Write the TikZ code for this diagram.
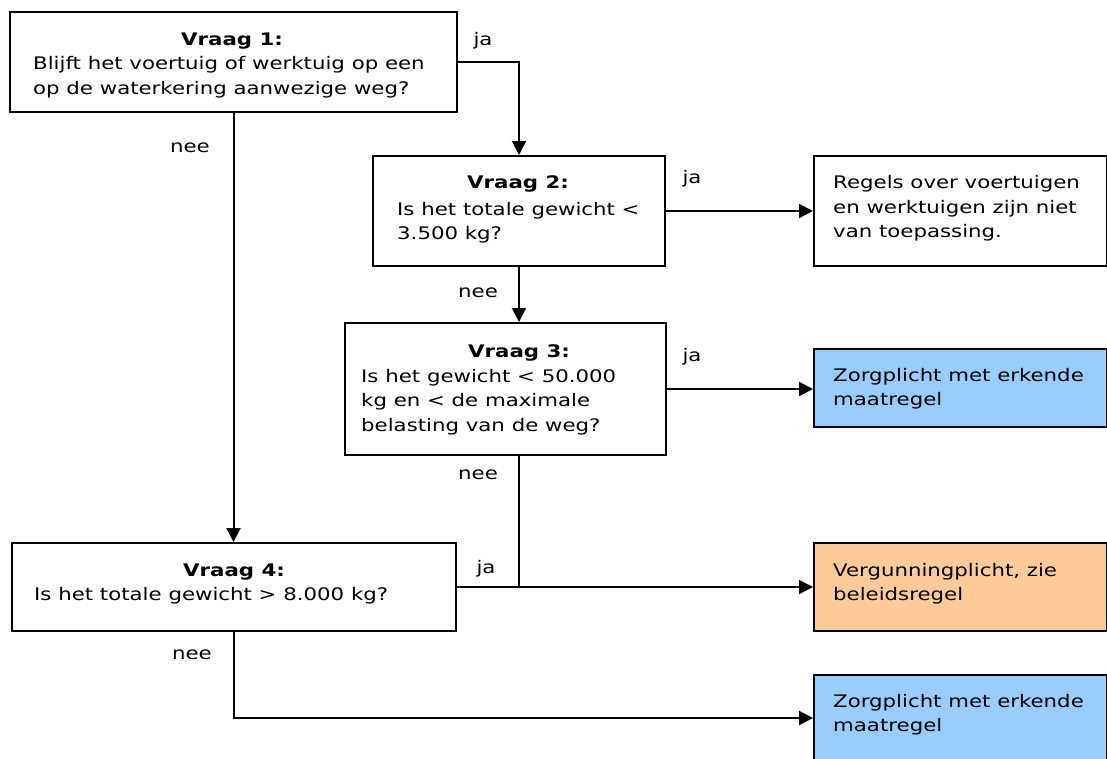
\documentclass[tikz,border=0pt]{standalone}
\usepackage{fontspec}
\setmainfont{DejaVu Sans}[FakeStretch=1.23]
\usetikzlibrary{arrows.meta}
\definecolor{zblue}{HTML}{99CCFF}
\definecolor{vorange}{HTML}{FFCC99}
\tikzset{
  box/.style={draw=black, line width=2pt, fill=white, inner sep=0pt},
  txt/.style={inner sep=0pt, anchor=base west, align=left, font=\fontsize{17.3}{24.7}\selectfont},
  head/.style={inner sep=0pt, anchor=base, font=\fontsize{17.3}{24.7}\selectfont\bfseries},
  lbl/.style={inner sep=0pt, anchor=base, font=\fontsize{17.3}{24.7}\selectfont},
  conn/.style={line width=2pt, -{Triangle[length=14pt,width=14pt]}},
  plain/.style={line width=2pt},
}
\begin{document}
\begin{tikzpicture}[x=1pt,y=-1pt]
\useasboundingbox (0,0) rectangle (1107,758);
\clip (0,0) rectangle (1107,758);
% boxes
\node[box, minimum width=447pt, minimum height=100pt] (q1) at (233.5,62) {};
\node[box, minimum width=292pt, minimum height=110pt] (q2) at (519,211) {};
\node[box, minimum width=293pt, minimum height=110pt] (r1) at (960.5,211) {};
\node[box, minimum width=321pt, minimum height=132pt] (q3) at (505.5,389) {};
\node[box, fill=zblue, minimum width=293pt, minimum height=78pt] (z1) at (960.5,388) {};
\node[box, minimum width=444pt, minimum height=88pt] (q4) at (234,587) {};
\node[box, fill=vorange, minimum width=293pt, minimum height=88pt] (v) at (960.5,587) {};
\node[box, fill=zblue, minimum width=293pt, minimum height=86pt] (z2) at (960.5,718) {};
% texts (base anchor = baseline of last line)
\node[head] (h1) at (232,45) {Vraag 1:};
\node[txt] (t1) at (33,94.2) {Blijft het voertuig of werktuig op een\\op de waterkering aanwezige weg?};
\node[head] (h2) at (518,188.5) {Vraag 2:};
\node[txt] (t2) at (397,239.7) {Is het totale gewicht <\\3.500 kg?};
\node[txt] (tr1) at (833,237.9) {Regels over voertuigen\\en werktuigen zijn niet\\van toepassing.};
\node[head] (h3) at (519,357) {Vraag 3:};
\node[txt] (t3) at (361,431.4) {Is het gewicht < 50.000\\kg en < de maximale\\belasting van de weg?};
\node[txt] (tz1) at (833,405.7) {Zorgplicht met erkende\\maatregel};
\node[head] (h4) at (234,576) {Vraag 4:};
\node[txt] (t4) at (34,600.5) {Is het totale gewicht > 8.000 kg?};
\node[txt] (tv) at (833,600.7) {Vergunningplicht, zie\\beleidsregel};
\node[txt] (tz2) at (833,731.7) {Zorgplicht met erkende\\maatregel};
% labels
\node[lbl] (l1) at (483,45) {ja};
\node[lbl] (l2) at (190,152) {nee};
\node[lbl] (l3) at (692,183) {ja};
\node[lbl] (l4) at (478,297) {nee};
\node[lbl] (l5) at (692,361) {ja};
\node[lbl] (l6) at (478,479) {nee};
\node[lbl] (l7) at (486,573) {ja};
\node[lbl] (l8) at (192,659) {nee};
% connectors
\draw[conn] (q1.east) -| (q2.north);
\draw[conn] (q1.south) -- (q1.south |- q4.north);
\draw[conn] (q2.east) -- (r1.west);
\draw[conn] (q2.south) -- (q2.south |- q3.north);
\draw[conn] (q3.east) -- (q3.east -| z1.west);
\coordinate (j) at (q2.south |- q4.east);
\draw[plain] (q2.south |- q3.south) -- (j);
\draw[conn] (q4.east) -- (v.west);
\draw[conn] (q4.south) |- (z2.west);
\end{tikzpicture}
\end{document}
